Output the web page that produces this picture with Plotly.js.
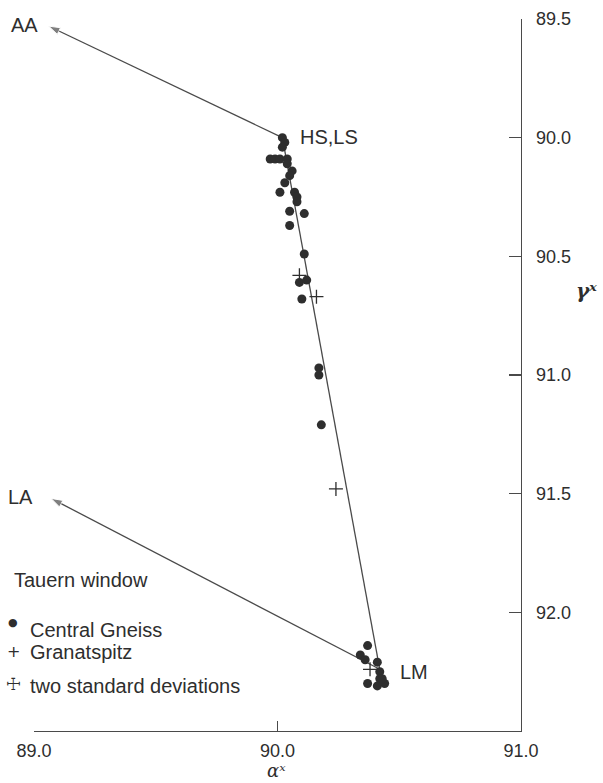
<!DOCTYPE html>
<html>
<head>
<meta charset="utf-8">
<script src="https://cdn.plot.ly/plotly-3.0.1.min.js"></script>
<style>
html,body{margin:0;padding:0;background:#fff;}
#chart{width:603px;height:783px;}
</style>
</head>
<body>
<div id="chart"></div>
<script>
// Central Gneiss (filled dots)
var gneissAlpha = [90.02, 90.03, 90.02, 89.97, 89.99, 90.01, 90.04, 90.04, 90.06, 90.05,
                   90.03, 90.01, 90.07, 90.08, 90.08, 90.05, 90.11, 90.05, 90.11, 90.09,
                   90.12, 90.10, 90.17, 90.17, 90.18, 90.37, 90.34, 90.36, 90.41, 90.42,
                   90.42, 90.44, 90.41, 90.37, 90.43];
var gneissGamma = [90.00, 90.02, 90.04, 90.09, 90.09, 90.09, 90.09, 90.11, 90.14, 90.16,
                   90.19, 90.23, 90.23, 90.25, 90.27, 90.31, 90.32, 90.37, 90.49, 90.61,
                   90.60, 90.68, 90.97, 91.00, 91.21, 92.14, 92.18, 92.20, 92.21, 92.25,
                   92.28, 92.30, 92.31, 92.30, 92.28];
// Granatspitz (crosses)
var granAlpha = [90.09, 90.16, 90.24, 90.38];
var granGamma = [90.58, 90.67, 91.48, 92.24];
// reference end members
var endNames = ["AA", "HS,LS", "LM", "LA"];
var endAlpha = [89.06, 90.02, 90.42, 89.07];
var endGamma = [89.53, 90.00, 92.24, 91.52];
// axis ticks
var xTicks = [89.0, 90.0, 91.0];
var yTicks = [89.5, 90.0, 90.5, 91.0, 91.5, 92.0];
// legend texts
var legendTitle = 'Tauern window';
var legendItems = ['Central Gneiss', 'Granatspitz', 'two standard deviations'];

var ink = '#2e2e2e';
var lineInk = '#4a4a4a';
var sans = '"Liberation Sans", Arial, sans-serif';

function idx(n){ return endNames.indexOf(n); }

var traces = [
  {x:[endAlpha[idx("HS,LS")], endAlpha[idx("AA")]], y:[endGamma[idx("HS,LS")], endGamma[idx("AA")]],
   mode:'lines+markers', line:{color:lineInk, width:1.3},
   marker:{symbol:'arrow', angleref:'previous', size:[0, 12], color:lineInk},
   cliponaxis:false, hoverinfo:'skip', showlegend:false},
  {x:[endAlpha[idx("HS,LS")], endAlpha[idx("LM")]], y:[endGamma[idx("HS,LS")], endGamma[idx("LM")]],
   mode:'lines', line:{color:lineInk, width:1.3}, hoverinfo:'skip', showlegend:false},
  {x:[endAlpha[idx("LM")], endAlpha[idx("LA")]], y:[endGamma[idx("LM")], endGamma[idx("LA")]],
   mode:'lines+markers', line:{color:lineInk, width:1.3},
   marker:{symbol:'arrow', angleref:'previous', size:[0, 12], color:lineInk},
   cliponaxis:false, hoverinfo:'skip', showlegend:false},
  {x:gneissAlpha, y:gneissGamma, mode:'markers', name:legendItems[0],
   marker:{symbol:'circle', size:9, color:ink, line:{width:0}}, showlegend:false},
  {x:granAlpha, y:granGamma, mode:'markers', name:legendItems[1],
   marker:{symbol:'cross-thin', size:10, color:ink, line:{width:1.3, color:ink}}, showlegend:false}
];

var tf = {family:sans, size:20, color:ink};
function ann(o){ o.showarrow = false; if(!o.font) o.font = tf; return o; }
var annotations = [
  ann({x:-0.0185, y:0.9916, xref:'paper', yref:'paper', text:endNames[0], xanchor:'center', yanchor:'middle'}),
  ann({x:90.084, y:89.996, xref:'x', yref:'y', text:endNames[1], xanchor:'left', yanchor:'middle'}),
  ann({x:90.495, y:92.252, xref:'x', yref:'y', text:endNames[2], xanchor:'left', yanchor:'middle'}),
  ann({x:-0.0267, y:0.3287, xref:'paper', yref:'paper', text:endNames[3], xanchor:'center', yanchor:'middle'}),
  ann({x:-0.0452, y:0.2121, xref:'paper', yref:'paper', text:legendTitle, xanchor:'left', yanchor:'middle'}),
  ann({x:-0.0123, y:0.1419, xref:'paper', yref:'paper', text:legendItems[0], xanchor:'left', yanchor:'middle'}),
  ann({x:-0.0123, y:0.1110, xref:'paper', yref:'paper', text:legendItems[1], xanchor:'left', yanchor:'middle'}),
  ann({x:-0.0123, y:0.0632, xref:'paper', yref:'paper', text:legendItems[2], xanchor:'left', yanchor:'middle'}),
  ann({x:-0.0431, y:0.1517, xref:'paper', yref:'paper', text:'\u25CF', xanchor:'center', yanchor:'middle',
       font:{family:'DejaVu Sans', size:11, color:ink}}),
  ann({x:-0.0431, y:0.1110, xref:'paper', yref:'paper', text:'+', xanchor:'center', yanchor:'middle',
       font:{family:'DejaVu Sans', size:16, color:ink}}),
  ann({x:-0.0431, y:0.0660, xref:'paper', yref:'paper', text:'\u2629', xanchor:'center', yanchor:'middle',
       font:{family:'DejaVu Sans', size:17, color:ink}}),
  ann({x:0.498, y:-0.0555, xref:'paper', yref:'paper', text:'<i>α\u02E3</i>',
       xanchor:'center', yanchor:'middle', font:{family:'DejaVu Serif', size:18, color:ink}}),
  ann({x:1.135, y:0.618, xref:'paper', yref:'paper', text:'<b><i>γ\u02E3</i></b>',
       xanchor:'center', yanchor:'middle', font:{family:'DejaVu Serif', size:20, color:ink}})
];

var layout = {
  width:603, height:783,
  margin:{l:34, r:82, t:19, b:52},
  paper_bgcolor:'#ffffff', plot_bgcolor:'#ffffff',
  showlegend:false,
  xaxis:{range:[89.0, 91.0], tickvals:xTicks, tickformat:'.1f', ticks:'inside', ticklen:10,
         tickcolor:lineInk, tickwidth:1.3, showline:true, linecolor:lineInk, linewidth:1.3,
         showgrid:false, zeroline:false, ticklabelstandoff:3,
         tickfont:{family:sans, size:18, color:ink}},
  yaxis:{range:[92.5, 89.5], side:'right', tickvals:yTicks, tickformat:'.1f', ticks:'inside', ticklen:12,
         tickcolor:lineInk, tickwidth:1.3, showline:true, linecolor:lineInk, linewidth:1.3,
         showgrid:false, zeroline:false, ticklabelstandoff:10,
         tickfont:{family:sans, size:18, color:ink}},
  annotations:annotations
};

Plotly.newPlot('chart', traces, layout, {displayModeBar:false, staticPlot:true});
</script>
</body>
</html>
